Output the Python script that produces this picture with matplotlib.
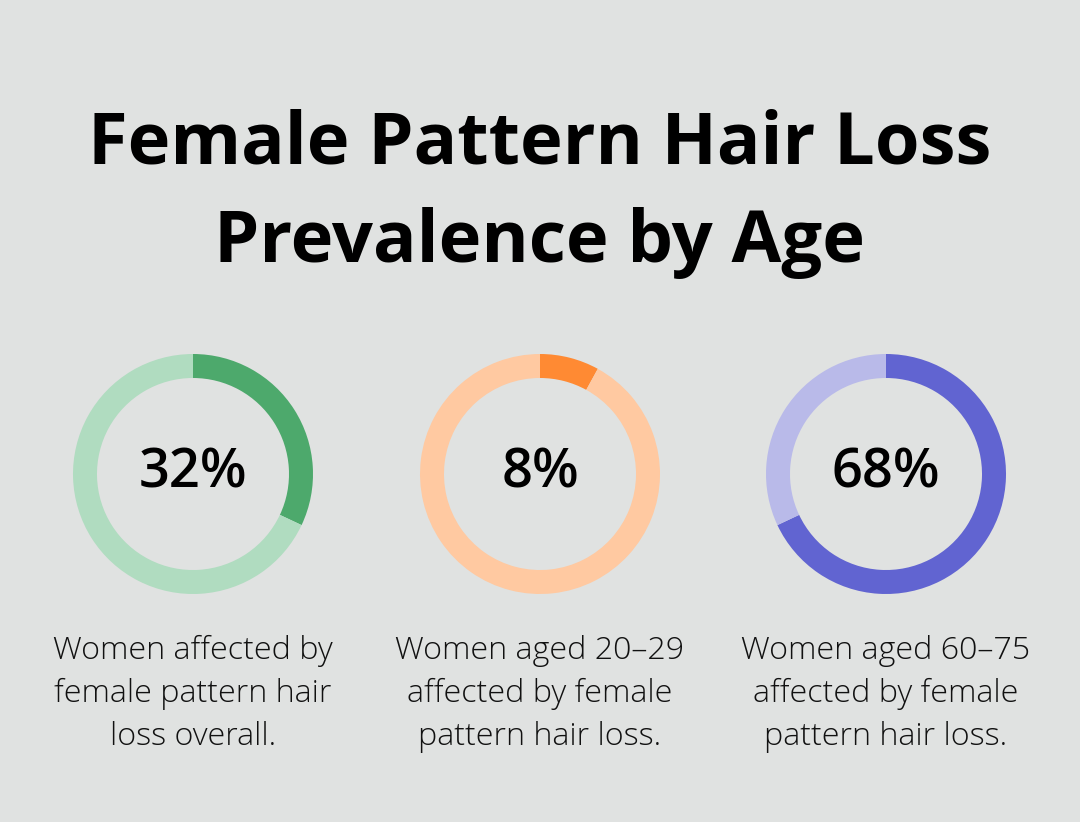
import matplotlib
matplotlib.use("Agg")
import matplotlib.pyplot as plt

# data
values = [32, 8, 68]
labels = ["32%", "8%", "68%"]
captions = [
    "Women affected by\nfemale pattern hair\nloss overall.",
    "Women aged 20\u201329\naffected by female\npattern hair loss.",
    "Women aged 60\u201375\naffected by female\npattern hair loss.",
]
dark_colors = ["#4DA96C", "#FF8A33", "#6164D1"]
light_colors = ["#B0DCC0", "#FFC9A1", "#B9BAE9"]
title = "Female Pattern Hair Loss\nPrevalence by Age"

W, H = 1080, 822
bg = "#E0E2E1"

plt.rcParams["font.family"] = ["Open Sans", "DejaVu Sans"]

fig = plt.figure(figsize=(W / 100, H / 100), dpi=100, facecolor=bg)
ax = fig.add_axes([0, 0, 1, 1])
ax.set_facecolor(bg)

centers_x = [193, 540, 886]
cy = H - 474

for i, v in enumerate(values):
    ax.pie([v, 100 - v], colors=[dark_colors[i], light_colors[i]],
           startangle=90, counterclock=False, radius=120,
           center=(centers_x[i], cy),
           wedgeprops=dict(width=24, linewidth=0))
    ax.text(centers_x[i], cy, labels[i], ha="center", va="center",
            fontsize=39, color="#000000", fontweight="semibold")
    ax.text(centers_x[i], H - 694, captions[i], ha="center", va="center",
            fontsize=23.2, color="#111111", fontweight="light",
            linespacing=1.47)

ax.set_xlim(0, W)
ax.set_ylim(0, H)
ax.set_aspect("equal")
ax.axis("off")

ax.text(W / 2, H - 194, title, ha="center", va="center", fontsize=52,
        fontweight="bold", color="#000000", linespacing=1.48)

fig.savefig("out.png", dpi=100, facecolor=bg)
